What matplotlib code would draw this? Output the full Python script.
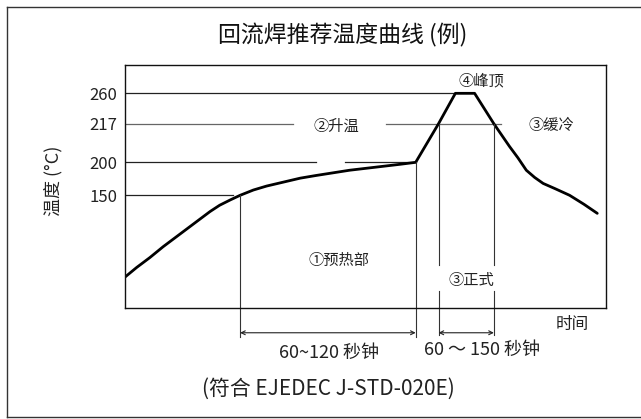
import numpy as np
import matplotlib
matplotlib.use('Agg')
import matplotlib.pyplot as plt
from matplotlib.lines import Line2D

plt.rcParams['font.family'] = ['Noto Sans CJK SC', 'DejaVu Sans']

# 温度曲线 (时间 s, 温度 °C) -- 示意图
time = [0, 10, 21, 32, 43, 53, 63, 71, 79, 88, 96, 107, 118, 132, 146,
        159, 173, 187, 201, 215, 229, 242,
        261, 275, 291, 307, 320, 327, 334, 341, 348, 358, 370, 382, 393]
temp = [59, 70, 81, 93, 104, 114, 124, 132, 139, 145, 150, 158, 164, 170,
        176, 180, 184, 188, 191, 194, 197, 200,
        217, 260, 260, 217, 207, 202, 188, 177, 168, 160, 150, 140, 130]

levels = [150, 200, 217, 260]
level_labels = ['150', '200', '217', '260']

# 示意图的纵轴不是线性的: 温度 -> 轴内位置
scale_temp = [25, 150, 200, 217, 260, 300]
scale_pos = [0, 0.4644, 0.6003, 0.7594, 0.8846, 1.0]


def fwd(t):
    return np.interp(t, scale_temp, scale_pos)


def inv(p):
    return np.interp(p, scale_pos, scale_temp)


fig = plt.figure(figsize=(6.41, 4.19), dpi=100)
ax = fig.add_axes([0.1945, 0.2649, 0.7504, 0.5792])
ax.set_yscale('function', functions=(fwd, inv))
ax.set_xlim(0, 400)
ax.set_ylim(25, 300)

for s in ax.spines.values():
    s.set_linewidth(1.0)
    s.set_color('#111111')

# 水平参考线
ax.plot([0, 275], [260, 260], color='#222222', lw=0.9)
ax.plot([0, 140], [217, 217], color='#666666', lw=0.9)
ax.plot([217, 313], [217, 217], color='#666666', lw=0.9)
ax.plot([0, 159], [200, 200], color='#222222', lw=0.9)
ax.plot([183, 242], [200, 200], color='#222222', lw=0.9)
ax.plot([0, 90], [150, 150], color='#222222', lw=0.9)

# 曲线
ax.plot(time, temp, color='black', lw=2.0, solid_joinstyle='round',
        solid_capstyle='round')

# 竖线 (延伸到轴外)
tr = ax.get_xaxis_transform()
vcol = '#333333'
for x, y0 in [(96, fwd(150)), (242, fwd(200))]:
    ax.add_line(Line2D([x, x], [y0, -0.118], transform=tr, color=vcol,
                       lw=0.8, clip_on=False))
for x in [261, 307]:
    ax.add_line(Line2D([x, x], [fwd(217), 0.177], transform=tr, color=vcol,
                       lw=0.8, clip_on=False))
    ax.add_line(Line2D([x, x], [0.071, -0.111], transform=tr, color=vcol,
                       lw=0.8, clip_on=False))

# 尺寸箭头
arr = dict(arrowstyle='<->', color='#222222', lw=0.8,
           shrinkA=0, shrinkB=0, mutation_scale=7)
ax.annotate('', xy=(96, -0.102), xytext=(242, -0.102), xycoords=tr,
            textcoords=tr, arrowprops=arr, annotation_clip=False)
ax.annotate('', xy=(261, -0.102), xytext=(307, -0.102), xycoords=tr,
            textcoords=tr, arrowprops=arr, annotation_clip=False)

tc = '#222222'
ax.text(176, 216, '②升温', ha='center', va='center', fontsize=11, color=tc,
        bbox=dict(facecolor='white', edgecolor='none', pad=0))
ax.text(297, 278, '④峰顶', ha='center', va='center', fontsize=11, color=tc)
ax.text(355, 216, '③缓冷', ha='center', va='center', fontsize=11, color=tc)
ax.text(178, 78, '①预热部', ha='center', va='center', fontsize=11, color=tc)
ax.text(288.6, 56, '③正式', ha='center', va='center', fontsize=11, color=tc)
ax.text(372.6, -0.067, '时间', transform=tr, ha='center', va='center',
        fontsize=12, color=tc)
ax.text(169.6, -0.184, '60~120 秒钟', transform=tr, ha='center',
        va='center', fontsize=13, color=tc)
ax.text(297, -0.173, '60 ～ 150 秒钟', transform=tr, ha='center',
        va='center', fontsize=13, color=tc)

ax.set_xticks([])
ax.set_yticks(levels)
ax.set_yticklabels(level_labels)
ax.minorticks_off()
ax.tick_params(axis='y', length=0, pad=5.5, labelsize=12, labelcolor=tc)
ax.set_ylabel('温度 (°C)', fontsize=13, color=tc, va='center')
ax.yaxis.set_label_coords(-0.149, 0.523)

fig.text(0.535, 0.9165, '回流焊推荐温度曲线 (例)', ha='center', va='center',
         fontsize=16.5, color='#111111')
fig.text(0.512, 0.0733, '(符合 EJEDEC J-STD-020E)', ha='center',
         va='center', fontsize=15, color=tc)

# 外框 (右边在图外)
bc = '#333333'
fig.add_artist(Line2D([0.0109, 1.0], [0.983, 0.983], transform=fig.transFigure,
                      color=bc, lw=1.0))
fig.add_artist(Line2D([0.0109, 1.0], [0.0048, 0.0048],
                      transform=fig.transFigure, color=bc, lw=1.0))
fig.add_artist(Line2D([0.0109, 0.0109], [0.0048, 0.983],
                      transform=fig.transFigure, color=bc, lw=1.0))

fig.savefig('out.png', dpi=100)
